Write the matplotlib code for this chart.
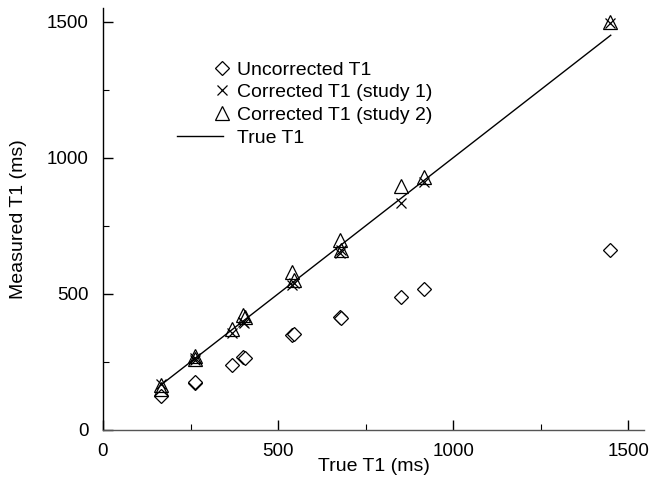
import numpy as np
import matplotlib
matplotlib.use("Agg")
import matplotlib.pyplot as plt
from matplotlib.legend_handler import HandlerLine2D

plt.rcParams['font.family'] = ['Liberation Sans', 'DejaVu Sans']

# --- data ---
unc_x = [167, 262, 264, 369, 400, 405, 540, 545, 677, 680, 851, 916, 1447]
unc_y = [125, 174, 178, 240, 269, 264, 349, 353, 414, 412, 487, 517, 662]

cor1_x = [167, 262, 264, 369, 400, 403, 540, 545, 677, 680, 851, 916, 1447]
cor1_y = [170, 258, 265, 355, 398, 392, 533, 539, 649, 661, 833, 912, 1495]

cor2_x = [167, 167, 262, 264, 369, 400, 405, 540, 545, 677, 680, 851, 916, 1447]
cor2_y = [150, 165, 270, 262, 370, 422, 416, 582, 551, 698, 661, 896, 931, 1500]

true_x = [165, 1450]
true_y = [165, 1450]

x_ticks = [0, 500, 1000, 1500]
y_ticks = [0, 500, 1000, 1500]
x_minor = [250, 750, 1250]
y_minor = [250, 750, 1250]


class RightMarkerHandler(HandlerLine2D):
    """Legend handler that puts the single marker at the right end of the handle."""
    def get_xdata(self, legend, xdescent, ydescent, width, height, fontsize):
        end = -xdescent + width - 0.1 * fontsize
        xdata = np.array([end - 1.0, end + 1.0])
        return xdata, np.array([end])


fig = plt.figure(figsize=(6.49, 4.87), dpi=100)
ax = fig.add_axes([103/649, 1 - 430/487, (644-103)/649, (430-8)/487])

h1, = ax.plot(unc_x, unc_y, linestyle='none', marker='D', ms=7.5, mfc='white',
              mec='black', mew=0.9, label='Uncorrected T1')
h2, = ax.plot(cor1_x, cor1_y, linestyle='none', marker='x', ms=7.5,
              color='black', mew=0.9, label='Corrected T1 (study 1)')
h3, = ax.plot(cor2_x, cor2_y, linestyle='none', marker='^', ms=10.5, mfc='none',
              mec='black', mew=0.9, label='Corrected T1 (study 2)')
h4, = ax.plot(true_x, true_y, color='black', lw=1.0, label='True T1')

ax.set_xlim(0, 1545)
ax.set_ylim(0, 1550)
ax.set_xticks(x_ticks)
ax.set_yticks(y_ticks)
ax.set_xticks(x_minor, minor=True)
ax.set_yticks(y_minor, minor=True)
ax.tick_params(which='major', direction='in', length=7, width=1, labelsize=13.5)
ax.tick_params(axis='x', which='major', pad=9)
ax.tick_params(axis='y', which='major', pad=10.5)
ax.tick_params(which='minor', direction='in', length=4, width=0.8)
for s in ['top', 'right']:
    ax.spines[s].set_visible(False)
ax.spines['left'].set_linewidth(1.0)
ax.spines['bottom'].set_linewidth(1.0)
ax.spines['bottom'].set_color('#555555')

ax.set_xlabel('True T1 (ms)', fontsize=14)
ax.set_ylabel('Measured T1 (ms)', fontsize=14)
ax.xaxis.set_label_coords(0.5, -0.066)
ax.yaxis.set_label_coords(-0.14, 0.5)

hm = {h1: RightMarkerHandler(numpoints=1), h2: RightMarkerHandler(numpoints=1),
      h3: RightMarkerHandler(numpoints=1)}
leg = ax.legend(handles=[h1, h2, h3, h4], loc='upper left',
                bbox_to_anchor=(0.122, 0.893), frameon=False, fontsize=14,
                handlelength=2.4, handletextpad=0.7, labelspacing=0.26,
                handler_map=hm, borderaxespad=0)
leg.get_lines()[0].set_markersize(7)
leg.get_lines()[1].set_markersize(6.5)
leg.get_lines()[2].set_markersize(9.5)

fig.savefig('out.png', dpi=100)
